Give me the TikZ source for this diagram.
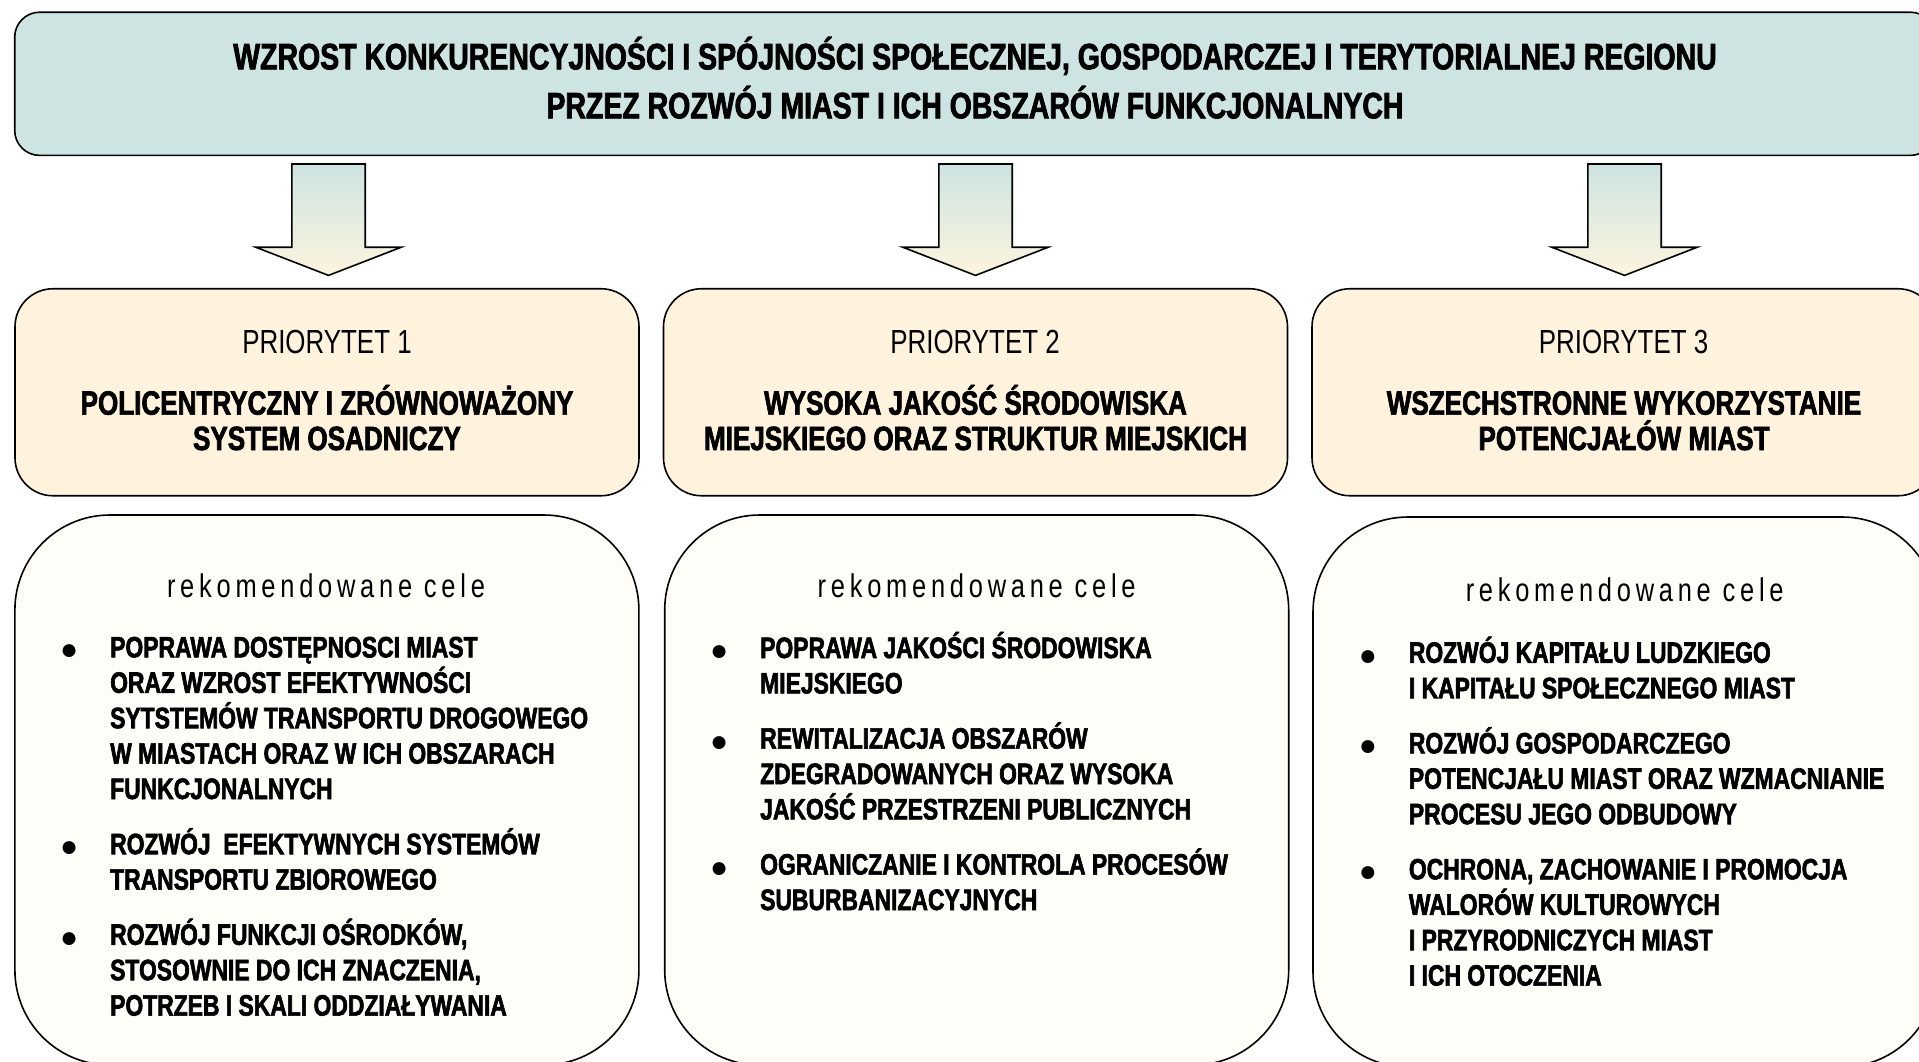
\documentclass[tikz,border=0pt]{standalone}
\usepackage{fontspec}
\setmainfont{Liberation Sans}[FakeStretch=0.7756,BoldFeatures={FakeBold=2}]
\newfontfamily\bulletfont{Liberation Sans}
\newfontfamily\spacedfont{Liberation Sans}[FakeStretch=0.7756,LetterSpace=14.5]
\definecolor{topfill}{RGB}{206,228,227}
\definecolor{priofill}{RGB}{255,243,222}
\definecolor{goalfill}{RGB}{254,253,248}
\definecolor{arrowtop}{RGB}{205,228,226}
\definecolor{arrowbottom}{RGB}{253,244,222}
\newcommand\bul{\llap{\makebox[82pt]{\raisebox{-2.5pt}{\bulletfont\fontsize{30}{30}\selectfont ●}}}}
\newcommand\fixstrut[2]{\setbox\strutbox\hbox{\vrule height #1 depth #2 width 0pt}}
\begin{document}
\begin{tikzpicture}[x=1pt,y=-1pt,
  box/.style={draw=black, line width=1.6pt, inner sep=0pt, outer sep=0pt},
  topbox/.style={box, fill=topfill, rounded corners=25pt, minimum width=1920.6pt, minimum height=143.2pt},
  priobox/.style={box, fill=priofill, rounded corners=38pt, minimum width=624pt, minimum height=207pt},
  goalbox/.style={box, fill=goalfill, rounded corners=95pt, minimum width=624pt, minimum height=550pt},
  blockarrow/.style={draw=black, line width=1.6pt, top color=arrowtop, bottom color=arrowbottom},
  titletext/.style={anchor=base, inner sep=0pt, font=\fontsize{36.7}{49}\selectfont\bfseries\fixstrut{35pt}{14pt}},
  priolabel/.style={anchor=base, inner sep=0pt, font=\fontsize{33.4}{36}\selectfont},
  priotitle/.style={anchor=base, inner sep=0pt, font=\fontsize{33.6}{35.4}\selectfont\bfseries\fixstrut{31pt}{4.4pt}},
  reklabel/.style={anchor=base, inner sep=0pt, font=\fontsize{32.8}{36}\spacedfont},
  goallist/.style={anchor=base west, inner sep=0pt, font=\fontsize{29.5}{35.4}\selectfont\bfseries\fixstrut{28pt}{7.4pt}}
]
\useasboundingbox (0,0) rectangle (1919,1061);
\clip (0,0) rectangle (1919,1061);

% top box
\node[topbox] (top) at (975,83.8) {};
\node[titletext] (title) at (975,69.3) {\begin{tabular}[t]{@{}c@{}}
WZROST KONKURENCYJNOŚCI I SPÓJNOŚCI SPOŁECZNEJ, GOSPODARCZEJ I TERYTORIALNEJ REGIONU\\
PRZEZ ROZWÓJ MIAST I ICH OBSZARÓW FUNKCJONALNYCH
\end{tabular}};

% arrows
\coordinate (a1) at (328.5,164);
\coordinate (a2) at (975.5,164);
\coordinate (a3) at (1624.5,164);
\foreach \a in {a1,a2,a3}{
  \draw[blockarrow] (\a) ++(-36.7,0) -- ++(73.4,0) -- ++(0,83.2) -- ++(36.1,0)
    -- ++(-72.8,28.2) -- ++(-72.8,-28.2) -- ++(36.1,0) -- cycle;
}

% priority boxes
\node[priobox] (p1) at (327,392.25) {};
\node[priobox] (p2) at (975.5,392.25) {};
\node[priobox] (p3) at (1624,392.25) {};

\node[priolabel] (pl1) at (327,353.4) {PRIORYTET 1};
\node[priolabel] (pl2) at (975,353.4) {PRIORYTET 2};
\node[priolabel] (pl3) at (1623.5,353.4) {PRIORYTET 3};

\node[priotitle] (pt1) at (327,414.6) {\begin{tabular}[t]{@{}c@{}}POLICENTRYCZNY I ZRÓWNOWAŻONY\\SYSTEM OSADNICZY\end{tabular}};
\node[priotitle] (pt2) at (975.5,414.6) {\begin{tabular}[t]{@{}c@{}}WYSOKA JAKOŚĆ ŚRODOWISKA\\MIEJSKIEGO ORAZ STRUKTUR MIEJSKICH\end{tabular}};
\node[priotitle] (pt3) at (1624,414.6) {\begin{tabular}[t]{@{}c@{}}WSZECHSTRONNE WYKORZYSTANIE\\POTENCJAŁÓW MIAST\end{tabular}};

% goal boxes
\node[goalbox] (g1) at (326.9,790) {};
\node[goalbox] (g2) at (976.7,790) {};
\node[goalbox] (g3) at (1625,792) {};

\node[reklabel] (r1) at (326,597.5) {rekomendowane cele};
\node[reklabel] (r2) at (976.7,597.5) {rekomendowane cele};
\node[reklabel] (r3) at (1624.7,601.5) {rekomendowane cele};

\node[goallist] (l1) at (110,657.4) {\begin{tabular}[t]{@{}l@{}}
\bul POPRAWA DOSTĘPNOSCI MIAST\\
ORAZ WZROST EFEKTYWNOŚCI\\
SYTSTEMÓW TRANSPORTU DROGOWEGO\\
W MIASTACH ORAZ W ICH OBSZARACH\\
FUNKCJONALNYCH\\[19.8pt]
\bul ROZWÓJ~ EFEKTYWNYCH SYSTEMÓW\\
TRANSPORTU ZBIOROWEGO\\[19.8pt]
\bul ROZWÓJ FUNKCJI OŚRODKÓW,\\
STOSOWNIE DO ICH ZNACZENIA,\\
POTRZEB I SKALI ODDZIAŁYWANIA
\end{tabular}};

\node[goallist] (l2) at (760,658) {\begin{tabular}[t]{@{}l@{}}
\bul POPRAWA JAKOŚCI ŚRODOWISKA\\
MIEJSKIEGO\\[19.8pt]
\bul REWITALIZACJA OBSZARÓW\\
ZDEGRADOWANYCH ORAZ WYSOKA\\
JAKOŚĆ PRZESTRZENI PUBLICZNYCH\\[19.8pt]
\bul OGRANICZANIE I KONTROLA PROCESÓW\\
SUBURBANIZACYJNYCH
\end{tabular}};

\node[goallist] (l3) at (1408.7,662.8) {\begin{tabular}[t]{@{}l@{}}
\bul ROZWÓJ KAPITAŁU LUDZKIEGO\\
I KAPITAŁU SPOŁECZNEGO MIAST\\[19.8pt]
\bul ROZWÓJ GOSPODARCZEGO\\
POTENCJAŁU MIAST ORAZ WZMACNIANIE\\
PROCESU JEGO ODBUDOWY\\[19.8pt]
\bul OCHRONA, ZACHOWANIE I PROMOCJA\\
WALORÓW KULTUROWYCH\\
I PRZYRODNICZYCH MIAST\\
I ICH OTOCZENIA
\end{tabular}};
\end{tikzpicture}
\end{document}
